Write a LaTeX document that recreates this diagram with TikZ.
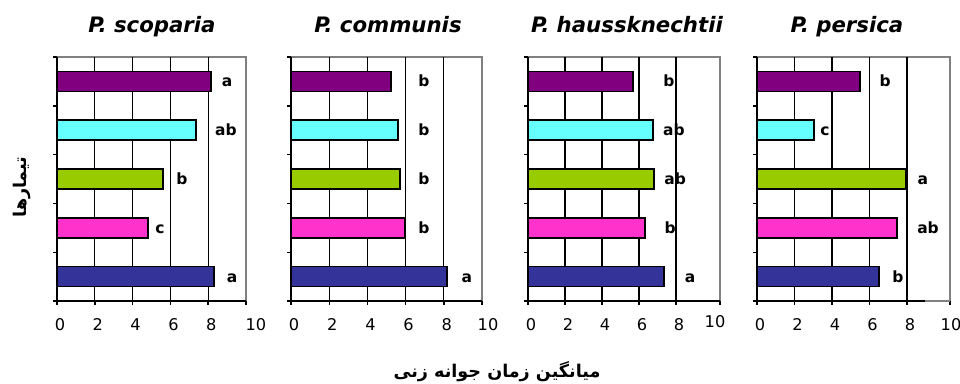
\documentclass[tikz,border=0pt]{standalone}
\usepackage{fontspec}
\setmainfont{DejaVu Sans}
\newfontfamily\farsi[Script=Arabic]{DejaVu Sans}
\TeXXeTstate=1

\definecolor{c1}{HTML}{800080}
\definecolor{c2}{HTML}{66FFFF}
\definecolor{c3}{HTML}{99CC00}
\definecolor{c4}{HTML}{FF33CC}
\definecolor{c5}{HTML}{333399}
\definecolor{framegray}{HTML}{808080}

\tikzset{
  hbar/.style={draw=black, line width=0.9pt},
  gridline/.style={black, line width=0.75pt},
  frameline/.style={framegray, line width=0.8pt},
  axisline/.style={black, line width=0.8pt},
  ticklab/.style={font=\fontsize{9.2}{9}\selectfont, inner sep=0pt, anchor=base},
  sig/.style={font=\fontsize{8.8}{9}\selectfont\bfseries, inner sep=0pt, anchor=base},
  ttl/.style={font=\fontsize{12.1}{12}\selectfont\bfseries\itshape, inner sep=0pt, anchor=base},
  farsilab/.style={font=\fontsize{10}{11}\selectfont\farsi\bfseries, inner sep=0pt}
}

\begin{document}
\begin{tikzpicture}[x=0.02cm, y=-0.02cm]
\useasboundingbox (0,0) rectangle (960,383);

% one panel per species: number / left edge / px per unit / right edge / title x / "10" x / "10" y / title / bars (value/label at/letter)
\foreach \p/\xl/\un/\xr/\tx/\tenx/\teny/\spname/\bars in {
  1/57/18.9/246/152/256/330/{P. scoparia}/{8.15/9.0/a, 7.35/8.94/ab, 5.61/6.61/b, 4.81/5.45/c, 8.31/9.26/a},
  2/291/19.1/482/388/488/330/{P. communis}/{5.24/6.96/b, 5.6/6.96/b, 5.7/6.96/b, 5.97/6.96/b, 8.17/9.21/a},
  3/528/18.5/720/627/715/327/{P. haussknechtii}/{5.68/7.62/b, 6.76/7.89/ab, 6.81/7.95/ab, 6.32/7.68/b, 7.35/8.76/a},
  4/757/18.75/950/847/951/330/{P. persica}/{5.49/6.83/b, 3.04/3.63/c, 7.95/8.85/a, 7.47/9.12/ab, 6.51/7.52/b}}
{
  \node[ttl] (title-\p) at (\tx,32) {\spname};

  % frame and grid
  \draw[frameline] (\xl,57) -- (\xr,57) -- (\xr,301);
  \foreach \g in {2,4,6,8}
    \draw[gridline] (\xl+\g*\un,57) -- (\xl+\g*\un,301);

  % bars, top to bottom
  \foreach \v/\lx/\lt [count=\i] in \bars {
    \pgfmathsetmacro\yc{57+(\i-0.5)*48.8}
    \draw[hbar, fill=c\i] (\xl,\yc-10) rectangle (\xl+\v*\un,\yc+10);
    \node[sig] (sig-\p-\i) at (\xl+\lx*\un,\yc+5.5) {\lt};
  }

  % axes and ticks
  \draw[axisline] (\xl,57) -- (\xl,301) -- (\xr,301);
  \foreach \j in {0,...,5}
    \draw[axisline] (\xl-4,57+\j*48.8) -- (\xl,57+\j*48.8);
  \foreach \k in {0,2,4,6,8} {
    \draw[axisline] (\xl+\k*\un,301) -- (\xl+\k*\un,305);
    \node[ticklab] (tick-\p-\k) at (\xl+\k*\un+3,330) {\k};
  }
  \draw[axisline] (\xr,301) -- (\xr,305);
  \node[ticklab] (tick-\p-10) at (\tenx,\teny) {10};
}

% grey tail of the last axis
\draw[frameline] (925,301) -- (950,301);

\node[farsilab] (xlab) at (497,372) {\beginR میانگین زمان جوانه زنی\endR};
\node[farsilab, rotate=90] (ylab) at (22,187) {\beginR تیمارها\endR};

\end{tikzpicture}
\end{document}
